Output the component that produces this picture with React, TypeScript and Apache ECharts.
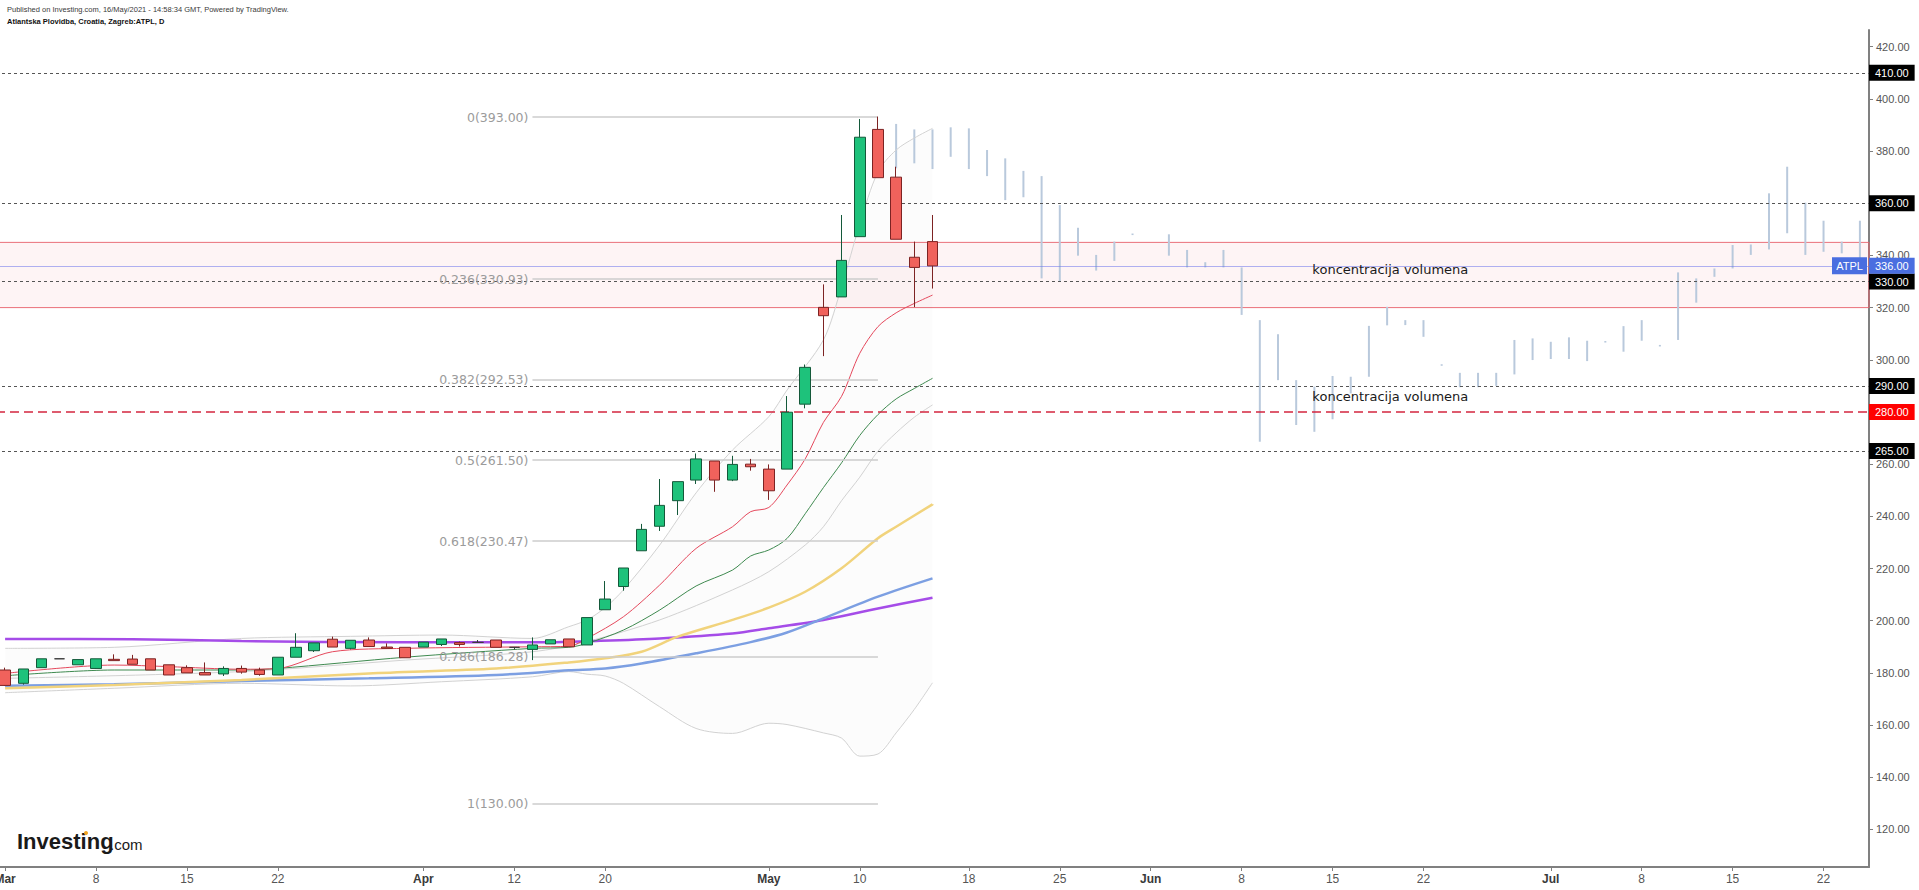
import React, { useEffect, useRef } from 'react';
import * as echarts from 'echarts';

// ---- calendar (trading days shown on the axis, incl. projected future days)
const marchDays = [1, 2, 3, 4, 5, 8, 9, 10, 11, 12, 15, 16, 17, 18, 19, 22, 23, 24, 25, 26, 29, 30, 31];
const aprilDays = [1, 6, 7, 8, 9, 12, 13, 14, 15, 16, 20, 21, 22, 23, 26, 27, 28, 29, 30];
const mayDays = [3, 4, 5, 6, 7, 10, 11, 12, 13, 14, 17, 18, 19, 20, 21, 24, 25, 26, 27, 28, 31];
const juneDays = [1, 2, 3, 4, 7, 8, 9, 10, 11, 14, 15, 16, 17, 18, 21, 22, 23, 24, 25, 28, 29, 30];
const julyDays = [1, 2, 5, 6, 7, 8, 9, 12, 13, 14, 15, 16, 19, 20, 21, 22, 23, 26];

const tickIndex = [0, 5, 10, 15, 23, 28, 33, 42, 47, 53, 58, 63, 68, 73, 78, 85, 90, 95, 100];
const tickText = ['Mar', '8', '15', '22', 'Apr', '12', '20', 'May', '10', '18', '25', 'Jun', '8', '15', '22', 'Jul', '8', '15', '22'];
const monthNames = ['Mar', 'Apr', 'May', 'Jun', 'Jul'];

const yTicks = [120, 140, 160, 180, 200, 220, 240, 260, 280, 300, 320, 340, 360, 380, 400, 420];

// ---- daily candles [open, close, low, high], Mar 1 .. May 14
const candles = [
  [181.1, 175.2, 175.0, 182.0],
  [176.0, 181.5, 175.5, 181.5],
  [182.0, 185.4, 182.0, 185.4],
  [185.4, 185.4, 185.4, 185.4],
  [183.1, 185.1, 183.1, 185.1],
  [181.7, 185.4, 181.5, 185.4],
  [185.2, 184.7, 184.7, 187.1],
  [185.3, 183.3, 183.3, 186.9],
  [185.4, 181.1, 181.1, 185.4],
  [183.1, 179.2, 179.2, 183.1],
  [182.0, 180.0, 180.0, 182.9],
  [180.1, 179.2, 179.2, 184.0],
  [179.6, 181.7, 178.8, 182.5],
  [181.7, 180.3, 179.7, 182.8],
  [181.1, 179.4, 178.9, 182.0],
  [179.2, 186.0, 179.2, 186.0],
  [186.0, 189.8, 186.0, 195.2],
  [188.5, 191.5, 188.0, 191.5],
  [192.9, 189.9, 189.9, 193.9],
  [189.4, 192.5, 189.0, 192.5],
  [192.6, 190.1, 190.1, 193.6],
  [189.9, 189.4, 189.4, 191.3],
  [189.8, 185.8, 185.8, 189.8],
  [189.9, 191.8, 189.9, 191.8],
  [190.9, 193.0, 190.3, 193.0],
  [191.6, 190.9, 190.1, 192.0],
  [191.7, 191.7, 191.7, 192.6],
  [192.6, 189.8, 189.8, 192.6],
  [189.8, 189.8, 189.0, 189.8],
  [189.0, 190.7, 184.9, 193.6],
  [191.1, 192.7, 191.1, 192.7],
  [193.0, 190.0, 190.0, 193.0],
  [190.7, 201.2, 190.7, 201.2],
  [204.2, 208.3, 204.2, 215.2],
  [213.1, 220.2, 211.5, 220.2],
  [226.8, 235.0, 226.8, 237.1],
  [236.2, 244.2, 234.4, 254.3],
  [246.0, 253.3, 240.5, 253.3],
  [253.9, 262.0, 252.4, 264.1],
  [261.2, 253.9, 249.4, 261.2],
  [253.9, 259.9, 253.5, 263.2],
  [260.0, 259.0, 257.5, 262.0],
  [258.1, 249.8, 246.3, 259.9],
  [258.1, 279.9, 258.1, 286.1],
  [283.0, 297.1, 281.4, 298.2],
  [320.1, 316.9, 301.4, 328.9],
  [324.1, 338.1, 324.1, 355.5],
  [347.2, 385.3, 347.2, 392.3],
  [388.3, 369.8, 369.8, 393.2],
  [370.0, 346.2, 346.2, 374.0],
  [339.3, 335.4, 320.2, 345.3],
  [345.3, 336.0, 327.3, 355.5],
];

// ---- projected "bars pattern" [index, high, low]
const projBars = [
  [49, 390.4, 373.4], [50, 388.3, 375.3], [51, 388.3, 373.1], [52, 389.1, 377.8],
  [53, 388.7, 373.1], [54, 380.4, 370.4], [55, 377.2, 361.2], [56, 372.4, 362.3],
  [57, 370.4, 331.2], [58, 359.3, 329.9], [59, 350.6, 339.9], [60, 340.2, 334.2],
  [61, 345.3, 337.9], [62, 348.4, 347.8], [64, 348.1, 339.9], [65, 342.1, 335.4],
  [66, 337.4, 335.4], [67, 342.1, 335.4], [68, 335.4, 317.2], [69, 315.2, 268.6],
  [70, 309.8, 292.2], [71, 292.2, 275.0], [72, 289.7, 272.4], [73, 293.8, 277.2],
  [74, 293.5, 287.1], [75, 313.0, 293.5], [76, 320.3, 313.2], [77, 315.2, 313.3],
  [78, 315.2, 308.8], [79, 298.3, 297.7], [80, 295.0, 289.5], [81, 295.0, 289.5],
  [82, 295.0, 290.0], [83, 307.6, 294.4], [84, 308.2, 299.9], [85, 306.9, 300.3],
  [86, 308.6, 300.3], [87, 307.3, 299.5], [88, 307.2, 306.6], [89, 312.9, 303.1],
  [90, 315.2, 307.3], [91, 305.7, 305.1], [92, 333.5, 307.6], [93, 331.2, 321.9],
  [94, 335.0, 331.8], [95, 344.0, 335.0], [96, 344.2, 340.2], [97, 363.8, 342.3],
  [98, 374.0, 348.5], [99, 360.2, 340.2], [100, 353.3, 341.4], [101, 345.3, 340.8],
  [102, 353.3, 338.9],
];

// ---- indicator lines [index, value]
const maRed = [
  [0, 179.8], [6, 183.0], [9, 182.4], [13, 181.4], [15, 181.7], [18, 188.1], [22, 189.4],
  [29, 190.0], [31, 190.2], [32, 193.2], [34, 201.5], [36, 213.7], [38, 227.7], [40, 236.0],
  [41, 241.8], [42, 243.4], [43, 252.0], [44, 262.0], [45, 276.0], [46, 286.0], [47, 302.5],
  [48, 312.7], [49, 318.0], [50, 321.6], [51, 324.8],
];
const maGreen = [
  [0, 178.9], [6, 181.1], [13, 181.1], [15, 181.7], [22, 186.0], [29, 189.4], [31, 189.8],
  [32, 191.3], [34, 196.4], [36, 204.1], [38, 213.3], [40, 219.4], [41, 224.8], [42, 227.1],
  [43, 231.5], [44, 241.0], [45, 251.0], [46, 260.5], [47, 271.0], [48, 279.0], [49, 285.0],
  [50, 289.0], [51, 292.9],
];
const bbMiddle = [
  [0, 177.9], [13, 180.5], [22, 184.9], [29, 188.1], [32, 192.0], [36, 200.3], [40, 211.8],
  [42, 218.8], [44, 229.0], [45, 236.0], [46, 246.0], [47, 255.0], [48, 265.0], [49, 272.0],
  [50, 278.0], [51, 282.7],
];
const bbIdx = [0, 6, 13, 19, 24, 29, 31, 32, 33, 34, 36, 38, 40, 42, 43, 45, 46, 47, 48, 49, 50, 51];
const bbUpper = [189.4, 189.8, 193.2, 194.0, 194.5, 193.2, 197.7, 200.3, 205.0, 211.8, 229.0, 249.0, 265.4, 278.2, 288.4, 307.6, 328.0, 352.0, 372.0, 380.4, 385.0, 388.7];
const bbLower = [172.4, 174.1, 176.0, 175.0, 176.6, 178.5, 180.5, 179.5, 178.8, 176.0, 167.0, 158.7, 156.8, 160.7, 160.2, 157.0, 155.0, 148.1, 148.9, 157.0, 166.0, 176.2];
const maYellow = [
  [0, 174.1], [6, 175.4], [13, 177.3], [20, 179.8], [27, 181.7], [31, 184.0], [33, 185.6],
  [35, 188.1], [37, 193.9], [40, 200.3], [42, 205.0], [44, 211.1], [46, 220.1], [48, 231.6],
  [49, 236.0], [51, 244.6],
];
const maBlue = [
  [0, 175.1], [6, 175.6], [13, 176.9], [20, 177.9], [27, 179.2], [31, 181.0], [33, 181.7],
  [35, 183.6], [38, 187.5], [41, 191.8], [43, 195.5], [45, 200.9], [48, 209.2], [51, 216.2],
];
const maPurple = [
  [0, 193.0], [7, 192.9], [13, 192.2], [22, 191.7], [30, 191.7], [32, 192.1], [36, 193.2],
  [40, 195.1], [42, 197.1], [45, 200.3], [48, 204.7], [51, 208.8],
];

// ---- drawn levels
const blackLevels = [410, 360, 330, 290, 265];
const redLevel = 280;
const lastPrice = 336;
const zoneTop = 345;
const zoneBottom = 320;
const fibRatios = ['0', '0.236', '0.382', '0.5', '0.618', '0.786', '1'];
const fibPrices = [393.0, 330.93, 292.53, 261.5, 230.47, 186.28, 130.0];
const fibStart = 29;
const fibEnd = 48;
const noteText = 'koncentracija volumena';
const noteIdx = 72;
const noteValues = [334.5, 286.0];
const tickerName = 'ATPL';

const headerLine1 = 'Published on Investing.com, 16/May/2021 - 14:58:34 GMT, Powered by TradingView.';
const headerLine2 = 'Atlantska Plovidba, Croatia, Zagreb:ATPL, D';

const categories = [
  ...marchDays.map((d) => `2021-03-${d}`),
  ...aprilDays.map((d) => `2021-04-${d}`),
  ...mayDays.map((d) => `2021-05-${d}`),
  ...juneDays.map((d) => `2021-06-${d}`),
  ...julyDays.map((d) => `2021-07-${d}`),
];

const AXIS_FONT = 'Liberation Sans, Arial, sans-serif';
const NOTE_FONT = 'DejaVu Sans, Verdana, sans-serif';

function boxLabel(bg: string) {
  return {
    show: true,
    position: 'end',
    distance: 0,
    formatter: (p: any) => Number(p.value).toFixed(2),
    backgroundColor: bg,
    color: '#ffffff',
    padding: [2, 6, 1, 6],
    fontSize: 11,
    lineHeight: 13,
    fontFamily: AXIS_FONT,
  };
}

function lineSeries(data: number[][], color: string, width: number, z: number, extra: any = {}) {
  return {
    type: 'line',
    data,
    symbol: 'none',
    smooth: 0.3,
    silent: true,
    z,
    lineStyle: { color, width },
    ...extra,
  };
}

export default function App() {
  const ref = useRef<HTMLDivElement>(null);

  useEffect(() => {
    const el = ref.current;
    if (!el) return;
    const chart = echarts.init(el, undefined, { renderer: 'svg' });

    const isTick = (idx: number) => tickIndex.indexOf(idx) >= 0;

    const option: any = {
      animation: false,
      backgroundColor: '#ffffff',
      grid: { left: -4, right: 50, top: 30, bottom: 23, containLabel: false, outerBoundsMode: 'none' },
      xAxis: {
        type: 'category',
        data: categories,
        boundaryGap: true,
        axisLine: { onZero: false, lineStyle: { color: '#808080', width: 2 } },
        axisTick: {
          show: true,
          alignWithLabel: true,
          interval: (idx: number) => isTick(idx),
          length: 4,
          lineStyle: { color: '#808080' },
        },
        axisLabel: {
          interval: (idx: number) => isTick(idx),
          formatter: (_v: string, idx: number) => {
            const k = tickIndex.indexOf(idx);
            if (k < 0) return '';
            const t = tickText[k];
            return monthNames.indexOf(t) >= 0 ? `{m|${t}}` : t;
          },
          color: '#555555',
          fontSize: 12,
          fontFamily: AXIS_FONT,
          margin: 6,
          rich: { m: { fontWeight: 'bold', color: '#3a3a3a', fontSize: 12, fontFamily: AXIS_FONT } },
        },
        splitLine: { show: false },
      },
      yAxis: {
        type: 'value',
        position: 'right',
        min: 105.6,
        max: 426.4,
        scale: true,
        splitLine: { show: false },
        axisLine: { show: true, lineStyle: { color: '#808080', width: 2 } },
        axisTick: { show: true, length: 4, customValues: yTicks, lineStyle: { color: '#808080' } },
        axisLabel: {
          customValues: yTicks,
          formatter: (v: number) => Number(v).toFixed(2),
          color: '#555555',
          fontSize: 11,
          fontFamily: AXIS_FONT,
          margin: 7,
        },
      },
      series: [
        {
          type: 'custom',
          name: 'bbFill',
          data: [[0, 0]],
          silent: true,
          z: 1,
          renderItem: (_params: any, api: any) => {
            const pts: number[][] = [];
            for (let k = 0; k < bbIdx.length; k++) pts.push(api.coord([bbIdx[k], bbUpper[k]]));
            for (let k = bbIdx.length - 1; k >= 0; k--) pts.push(api.coord([bbIdx[k], bbLower[k]]));
            return { type: 'polygon', shape: { points: pts }, style: { fill: 'rgba(0,0,0,0.013)' } };
          },
          markArea: {
            silent: true,
            itemStyle: { color: 'rgba(242,70,85,0.06)', borderColor: 'rgba(232,96,108,0.9)', borderWidth: 1 },
            data: [[{ yAxis: zoneTop }, { yAxis: zoneBottom }]],
          },
        },
        {
          type: 'custom',
          name: 'projection',
          data: projBars,
          encode: { x: 0, y: [1, 2] },
          silent: true,
          z: 2,
          renderItem: (_params: any, api: any) => {
            const x = api.value(0);
            const a = api.coord([x, api.value(1)]);
            const b = api.coord([x, api.value(2)]);
            return {
              type: 'line',
              shape: { x1: a[0], y1: a[1], x2: b[0], y2: Math.max(b[1], a[1] + 1.5) },
              style: { stroke: '#b9c9dc', lineWidth: 2 },
            };
          },
        },
        lineSeries(bbIdx.map((ix, k) => [ix, bbUpper[k]]), '#d2d2d2', 1, 3),
        lineSeries(bbIdx.map((ix, k) => [ix, bbLower[k]]), '#d2d2d2', 1, 3),
        lineSeries(bbMiddle, '#d2d2d2', 1, 3, {
          markLine: {
            silent: true,
            symbol: ['none', 'none'],
            lineStyle: { color: '#cccccc', width: 1.5, type: 'solid' },
            label: {
              show: true,
              position: 'start',
              formatter: '{b}',
              color: '#9b9b9b',
              fontSize: 12.5,
              fontFamily: NOTE_FONT,
              distance: 4,
            },
            data: fibPrices.map((p, k) => [
              { name: `${fibRatios[k]}(${p.toFixed(2)})`, coord: [fibStart, p] },
              { coord: [fibEnd, p] },
            ]),
          },
        }),
        lineSeries(maPurple, '#a54ce8', 2.5, 3),
        lineSeries(maBlue, '#7c9fe2', 2.5, 3),
        lineSeries(maYellow, '#f1d37c', 2.5, 3),
        lineSeries(maGreen, '#3f8a50', 1, 3),
        lineSeries(maRed, '#e5485c', 1, 3),
        {
          type: 'candlestick',
          data: candles,
          barWidth: 11,
          z: 5,
          silent: true,
          itemStyle: {
            color: '#1ec27b',
            color0: '#f0625c',
            borderColor: '#14593a',
            borderColor0: '#7d2323',
            borderColorDoji: '#3a3a3a',
            borderWidth: 1,
          },
          markLine: {
            silent: true,
            symbol: ['none', 'none'],
            data: [
              ...blackLevels.map((v) => ({
                yAxis: v,
                lineStyle: { color: '#555555', width: 1, type: [3, 3] },
                label: boxLabel('#000000'),
              })),
              {
                yAxis: redLevel,
                lineStyle: { color: '#d3263f', width: 1.5, type: [9, 5] },
                label: boxLabel('#ff0000'),
              },
              {
                yAxis: lastPrice,
                lineStyle: { color: 'rgba(110,118,235,0.55)', width: 1, type: 'solid' },
                label: boxLabel('#4a6ee0'),
              },
            ],
          },
        },
      ],
    };

    chart.setOption(option);

    const notePts = noteValues.map((v) => chart.convertToPixel({ gridIndex: 0 }, [noteIdx, v]) as number[]);
    const lastY = (chart.convertToPixel({ gridIndex: 0 }, [0, lastPrice]) as number[])[1];

    chart.setOption({
      graphic: [
        {
          type: 'text',
          x: 7,
          y: 9.5,
          silent: true,
          style: { text: headerLine1, fontSize: 7.5, fontFamily: AXIS_FONT, fill: '#3a3a3a', verticalAlign: 'middle' },
        },
        {
          type: 'text',
          x: 7,
          y: 21.5,
          silent: true,
          style: { text: headerLine2, fontSize: 7.5, fontWeight: 'bold', fontFamily: AXIS_FONT, fill: '#111111', verticalAlign: 'middle' },
        },
        ...notePts.map((p) => ({
          type: 'text',
          x: p[0] - 2,
          y: p[1],
          silent: true,
          z: 20,
          style: { text: noteText, fontSize: 13, fontFamily: NOTE_FONT, fill: '#1a1a1a', verticalAlign: 'middle' },
        })),
        {
          type: 'rect',
          silent: true,
          z: 20,
          shape: { x: 1832, y: lastY - 8.5, width: 35, height: 17 },
          style: { fill: '#4a6ee0' },
        },
        {
          type: 'text',
          silent: true,
          z: 21,
          x: 1849.5,
          y: lastY,
          style: { text: tickerName, fontSize: 11, fontFamily: AXIS_FONT, fill: '#ffffff', align: 'center', verticalAlign: 'middle' },
        },
        {
          type: 'text',
          silent: true,
          x: 17,
          y: 841,
          style: { text: 'Investing', fontSize: 22, fontWeight: 'bold', fontFamily: AXIS_FONT, fill: '#1a1a1a', verticalAlign: 'middle' },
        },
        {
          type: 'text',
          silent: true,
          x: 110,
          y: 844,
          style: { text: '.com', fontSize: 15, fontFamily: AXIS_FONT, fill: '#1a1a1a', verticalAlign: 'middle' },
        },
        {
          type: 'circle',
          silent: true,
          shape: { cx: 86, cy: 833, r: 2 },
          style: { fill: '#f3a521' },
        },
      ],
    });

    return () => {
      chart.dispose();
    };
  }, []);

  return (
    <div
      ref={ref}
      style={{ position: 'fixed', left: 0, top: 0, width: 1919, height: 890, background: '#ffffff' }}
    />
  );
}
